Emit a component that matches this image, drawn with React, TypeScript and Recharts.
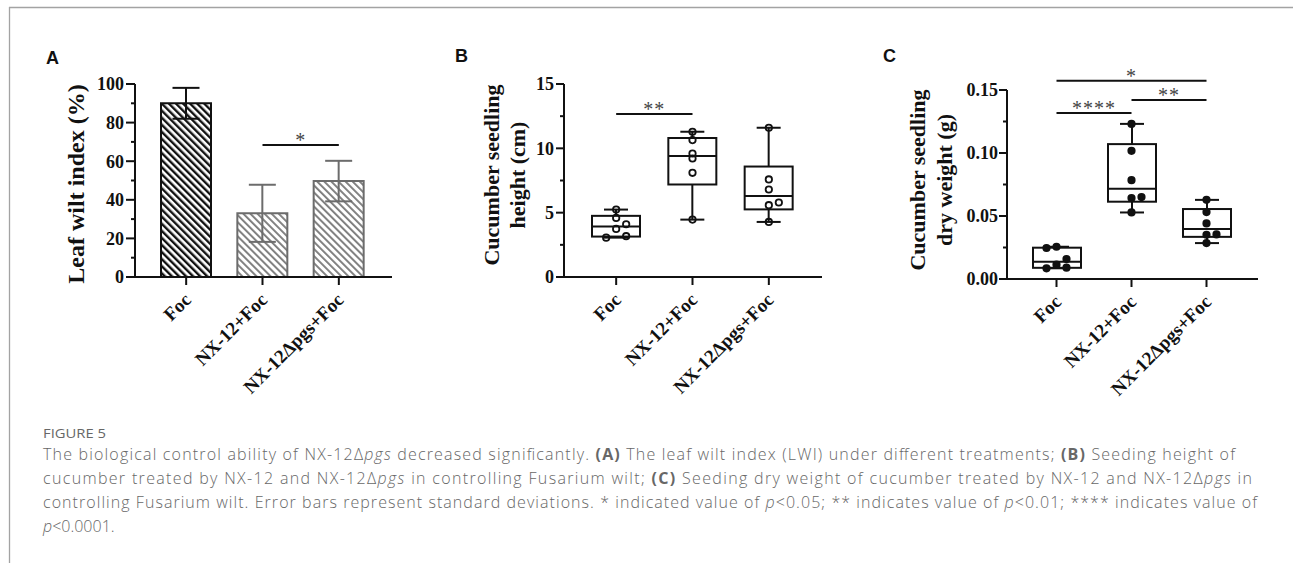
import React from "react";
import {
  BarChart,
  Bar,
  ErrorBar,
  ComposedChart,
  Scatter,
  XAxis,
  YAxis,
  ReferenceLine,
} from "recharts";

const categories = ["Foc", "NX-12+Foc", "NX-12Δpgs+Foc"];

// A: leaf wilt index (%), mean and SD
const wiltMean = [90, 33, 49.7];
const wiltSd = [8, 14.8, 10.5];
const wiltTicks = [0, 10, 20, 30, 40, 50, 60, 70, 80, 90, 100];

// B: seedling height (cm), six plants per treatment
const heightFoc = [5.24, 4.59, 3.74, 4.1, 3.06, 3.17];
const heightNx = [11.29, 10.64, 9.6, 9.21, 8.1, 4.46];
const heightPgs = [11.6, 7.58, 6.8, 5.58, 5.79, 4.28];
const heightTicks = [0, 2.5, 5, 7.5, 10, 12.5, 15];

// C: seedling dry weight (g)
const weightFoc = [0.0246, 0.0256, 0.0158, 0.0114, 0.0085, 0.009];
const weightNx = [0.1231, 0.1017, 0.0784, 0.0642, 0.065, 0.0528];
const weightPgs = [0.0628, 0.0531, 0.0441, 0.0351, 0.0354, 0.0285];
const weightTicks = [0, 0.025, 0.05, 0.075, 0.1, 0.125, 0.15];

// significance bars (from / to category index, height in data units)
const sigA = [{ from: 1, to: 2, y: 68.4, text: "*" }];
const sigB = [{ from: 0, to: 1, y: 12.67, text: "**" }];
const sigC = [
  { from: 0, to: 2, y: 0.1574, text: "*" },
  { from: 0, to: 1, y: 0.1318, text: "****" },
  { from: 1, to: 2, y: 0.1421, text: "**" },
];

// horizontal spread of the dots, in dot slots (left / centre / right)
const jitterB = [[0, 0, 0, 1, -1, 1], [0, 0, 0, 0, 0, 0], [0, 0, 0, 0, 1, 0]];
const jitterC = [[-1, 0, 1, 0, -1, 1], [0, 0, 0, 0, 1, 0], [0, 0, 0, 0, 1, 0]];

const serif = "'Liberation Serif', 'Times New Roman', serif";
const INK = "#111";

// quartiles the way Prism does them (position p*(n+1))
function quantile(sorted: number[], p: number) {
  const pos = p * (sorted.length + 1) - 1;
  const lo = Math.floor(pos);
  if (lo < 0) return sorted[0];
  if (lo >= sorted.length - 1) return sorted[sorted.length - 1];
  return sorted[lo] + (pos - lo) * (sorted[lo + 1] - sorted[lo]);
}

function boxRows(groups: number[][]) {
  return categories.map((cat, i) => {
    const s = [...groups[i]].sort((a, b) => a - b);
    return {
      cat,
      range: [s[0], s[s.length - 1]],
      q1: quantile(s, 0.25),
      med: quantile(s, 0.5),
      q3: quantile(s, 0.75),
    };
  });
}

function dotRows(groups: number[][], jitter: number[][]) {
  return groups.flatMap((g, i) => g.map((v, k) => ({ cat: categories[i], v, j: jitter[i][k] })));
}

const wiltRows = categories.map((cat, i) => ({
  cat,
  dark: i === 0 ? wiltMean[i] : null,
  darkSd: i === 0 ? wiltSd[i] : null,
  grey: i > 0 ? wiltMean[i] : null,
  greySd: i > 0 ? wiltSd[i] : null,
}));

const heightBoxes = boxRows([heightFoc, heightNx, heightPgs]);
const heightDots = dotRows([heightFoc, heightNx, heightPgs], jitterB);
const weightBoxes = boxRows([weightFoc, weightNx, weightPgs]);
const weightDots = dotRows([weightFoc, weightNx, weightPgs], jitterC);

const yTick = (step: number, digits: number, gap: number, len: number) => (p: any) => {
  const v = p.payload.value;
  const major = Math.abs(v / step - Math.round(v / step)) < 1e-6;
  return (
    <g>
      <line x1={p.x - (major ? len : 4)} x2={p.x} y1={p.y} y2={p.y} stroke={INK} strokeWidth={2} />
      {major && (
        <text
          x={p.x - gap}
          y={p.y}
          dy="0.36em"
          textAnchor="end"
          fontFamily={serif}
          fontWeight="bold"
          fontSize={18}
          fill={INK}
        >
          {v.toFixed(digits)}
        </text>
      )}
    </g>
  );
};

const xTick = (p: any) => (
  <text
    x={0}
    y={0}
    transform={`translate(${p.x + 6},${p.y + 16}) rotate(-45)`}
    textAnchor="end"
    fontFamily={serif}
    fontWeight="bold"
    fontSize={19}
    fill={INK}
  >
    {p.payload.value}
  </text>
);

const axisTitle = (lines: string[], gaps: number[], shift: number, size: number) => (p: any) => {
  const { x, y, width, height } = p.viewBox;
  const cy = y + height / 2 + shift;
  return (
    <g>
      {lines.map((t, i) => {
        const bx = x + width - gaps[i];
        return (
          <text
            key={i}
            x={bx}
            y={cy}
            transform={`rotate(-90 ${bx} ${cy})`}
            textAnchor="middle"
            fontFamily={serif}
            fontWeight="bold"
            fontSize={size}
            fill={INK}
          >
            {t}
          </text>
        );
      })}
    </g>
  );
};

const starLabel = (t: string) => (p: any) => {
  const vb = p.viewBox;
  return (
    <text
      x={vb.x + vb.width / 2}
      y={vb.y + 2}
      textAnchor="middle"
      fontFamily={serif}
      fontSize={20}
      letterSpacing={1}
      fill="#444"
    >
      {t}
    </text>
  );
};

const sigLines = (list: { from: number; to: number; y: number; text: string }[]) =>
  list.map((s, i) => (
    <ReferenceLine
      key={i}
      segment={[
        { x: categories[s.from], y: s.y },
        { x: categories[s.to], y: s.y },
      ]}
      stroke={INK}
      strokeWidth={2}
      ifOverflow="visible"
      label={starLabel(s.text)}
    />
  ));

const BoxShape = (props: any) => {
  const { x, y, width, height, payload } = props;
  const [lo, hi] = payload.range;
  const k = height / (hi - lo);
  const py = (v: number) => y + (hi - v) * k;
  const cx = x + width / 2;
  return (
    <g stroke={INK} strokeWidth={2} fill="none">
      <line x1={cx} x2={cx} y1={py(hi)} y2={py(payload.q3)} />
      <line x1={cx} x2={cx} y1={py(payload.q1)} y2={py(lo)} />
      <line x1={cx - 12} x2={cx + 12} y1={py(hi)} y2={py(hi)} />
      <line x1={cx - 12} x2={cx + 12} y1={py(lo)} y2={py(lo)} />
      <rect x={x} y={py(payload.q3)} width={width} height={py(payload.q1) - py(payload.q3)} fill="#fff" />
      <line x1={x} x2={x + width} y1={py(payload.med)} y2={py(payload.med)} />
    </g>
  );
};

const dot = (filled: boolean) => (p: any) => (
  <circle
    cx={p.cx + p.payload.j * 10}
    cy={p.cy}
    r={3.2}
    fill={filled ? INK : "none"}
    stroke={INK}
    strokeWidth={1.8}
  />
);

const axisLine = { stroke: INK, strokeWidth: 2 };

function WiltChart() {
  return (
    <BarChart
      width={420}
      height={420}
      data={wiltRows}
      margin={{ top: 84, right: 28, bottom: 83, left: 75 }}
      barGap={-50}
    >
      <defs>
        <pattern id="hatchDark" patternUnits="userSpaceOnUse" width={5} height={5} patternTransform="rotate(-45)">
          <rect width={5} height={5} fill="#fff" />
          <rect width={2.4} height={5} fill={INK} />
        </pattern>
        <pattern id="hatchGrey" patternUnits="userSpaceOnUse" width={5} height={5} patternTransform="rotate(-45)">
          <rect width={5} height={5} fill="#fff" />
          <rect width={1.9} height={5} fill="#7c7c7c" />
        </pattern>
      </defs>
      <XAxis
        dataKey="cat"
        height={60}
        interval={0}
        padding={{ left: 13, right: 15 }}
        axisLine={axisLine}
        tickLine={axisLine}
        tickSize={8}
        tickMargin={0}
        tick={xTick}
      />
      <YAxis
        width={60}
        domain={[0, 100]}
        ticks={wiltTicks}
        interval={0}
        axisLine={axisLine}
        tickLine={false}
        tickSize={0}
        tickMargin={0}
        tick={yTick(20, 0, 11, 9)}
        label={axisTitle(["Leaf wilt index (%)"], [51], 3.5, 24)}
      />
      <Bar dataKey="dark" barSize={50} fill="url(#hatchDark)" stroke={INK} strokeWidth={2} isAnimationActive={false}>
        <ErrorBar dataKey="darkSd" width={13.5} stroke={INK} strokeWidth={2} direction="y" />
      </Bar>
      <Bar dataKey="grey" barSize={50} fill="url(#hatchGrey)" stroke="#6c6c6c" strokeWidth={2} isAnimationActive={false}>
        <ErrorBar dataKey="greySd" width={13.5} stroke="#6c6c6c" strokeWidth={2} direction="y" />
      </Bar>
      {sigLines(sigA)}
    </BarChart>
  );
}

function BoxChart(props: {
  rows: any[];
  dots: any[];
  filled: boolean;
  ticks: number[];
  step: number;
  digits: number;
  gap: number;
  margin: { top: number; right: number; bottom: number; left: number };
  padding: { left: number; right: number };
  title: any;
  sig: { from: number; to: number; y: number; text: string }[];
}) {
  const { ticks } = props;
  return (
    <ComposedChart width={420} height={420} data={props.rows} margin={props.margin}>
      <XAxis
        dataKey="cat"
        type="category"
        allowDuplicatedCategory={false}
        height={60}
        interval={0}
        padding={props.padding}
        axisLine={axisLine}
        tickLine={axisLine}
        tickSize={8}
        tickMargin={0}
        tick={xTick}
      />
      <YAxis
        width={60}
        type="number"
        domain={[ticks[0], ticks[ticks.length - 1]]}
        ticks={ticks}
        interval={0}
        axisLine={axisLine}
        tickLine={false}
        tickSize={0}
        tickMargin={0}
        tick={yTick(props.step, props.digits, props.gap, 8)}
        label={props.title}
      />
      <Bar dataKey="range" barSize={48} shape={BoxShape} isAnimationActive={false} />
      <Scatter data={props.dots} dataKey="v" shape={dot(props.filled)} isAnimationActive={false} />
      {sigLines(props.sig)}
    </ComposedChart>
  );
}

const captionGrey = "#676767";
const sans = "'Open Sans', 'Noto Sans', sans-serif";

export default function App() {
  return (
    <div style={{ position: "absolute", left: 0, top: 0, width: 1293, height: 563, background: "#fff" }}>
      <div style={{ position: "absolute", left: 0, top: 0 }}>
        <WiltChart />
      </div>
      <div style={{ position: "absolute", left: 430, top: 0 }}>
        <BoxChart
          rows={heightBoxes}
          dots={heightDots}
          filled={false}
          ticks={heightTicks}
          step={5}
          digits={0}
          gap={10}
          margin={{ top: 84, right: 28, bottom: 83, left: 74 }}
          padding={{ left: 14, right: 15 }}
          title={axisTitle(["Cucumber seedling", "height (cm)"], [65, 39], -5.5, 22)}
          sig={sigB}
        />
      </div>
      <div style={{ position: "absolute", left: 860, top: 0 }}>
        <BoxChart
          rows={weightBoxes}
          dots={weightDots}
          filled={true}
          ticks={weightTicks}
          step={0.05}
          digits={2}
          gap={9}
          margin={{ top: 90, right: 22, bottom: 81, left: 87 }}
          padding={{ left: 12, right: 14 }}
          title={axisTitle(["Cucumber seedling", "dry weight (g)"], [82, 55], -4.5, 22)}
          sig={sigC}
        />
      </div>
      <svg width={1293} height={563} style={{ position: "absolute", left: 0, top: 0, pointerEvents: "none" }}>
        <line x1={9} y1={7.5} x2={1293} y2={7.5} stroke="#a3a3a3" strokeWidth={1.3} />
        <line x1={9.5} y1={7} x2={9.5} y2={563} stroke="#a3a3a3" strokeWidth={1.3} />
        <g fontFamily="'Liberation Sans', Arial, sans-serif" fontWeight="bold" fontSize={18} fill={INK}>
          <text x={46} y={64}>A</text>
          <text x={455} y={62}>B</text>
          <text x={883} y={62}>C</text>
        </g>
        <g fontFamily={sans} fontSize={16} fontWeight={300} fill={captionGrey}>
          <text x={43} y={438} fontSize={13.5} fontWeight={400} textLength={63} lengthAdjust="spacingAndGlyphs">
            FIGURE 5
          </text>
          <text x={43} y={460} textLength={1192} lengthAdjust="spacing">
            The biological control ability of NX-12Δ<tspan fontStyle="italic">pgs</tspan> decreased significantly.{" "}
            <tspan fontWeight="bold">(A)</tspan> The leaf wilt index (LWI) under different treatments;{" "}
            <tspan fontWeight="bold">(B)</tspan> Seeding height of
          </text>
          <text x={43} y={484} textLength={1209} lengthAdjust="spacing">
            cucumber treated by NX-12 and NX-12Δ<tspan fontStyle="italic">pgs</tspan> in controlling Fusarium wilt;{" "}
            <tspan fontWeight="bold">(C)</tspan> Seeding dry weight of cucumber treated by NX-12 and NX-12Δ
            <tspan fontStyle="italic">pgs</tspan> in
          </text>
          <text x={43} y={508} textLength={1214} lengthAdjust="spacing">
            controlling Fusarium wilt. Error bars represent standard deviations. * indicated value of{" "}
            <tspan fontStyle="italic">p</tspan>&lt;0.05; ** indicates value of <tspan fontStyle="italic">p</tspan>
            &lt;0.01; **** indicates value of
          </text>
          <text x={43} y={532}>
            <tspan fontStyle="italic">p</tspan>&lt;0.0001.
          </text>
        </g>
      </svg>
    </div>
  );
}
